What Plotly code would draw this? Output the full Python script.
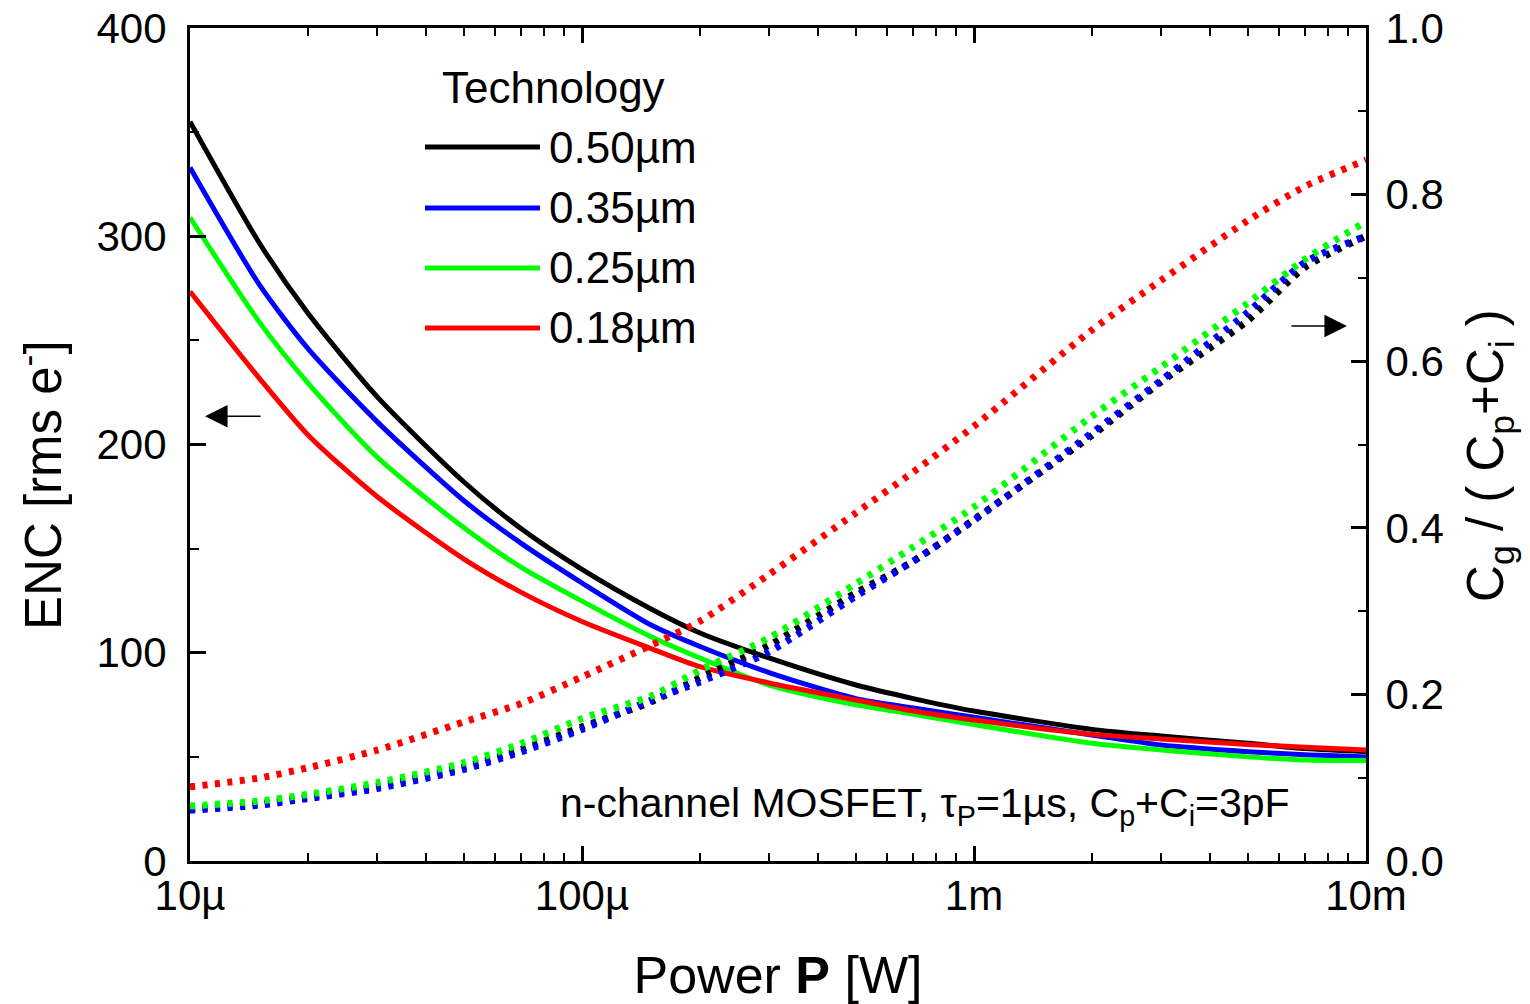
import plotly.graph_objects as go

# Power values [W]
power = [10e-6, 15e-6, 20e-6, 30e-6, 50e-6, 70e-6, 100e-6, 150e-6, 200e-6, 300e-6,
         500e-6, 700e-6, 1e-3, 2e-3, 3e-3, 5e-3, 7e-3, 10e-3]

technologies = ["0.50µm", "0.35µm", "0.25µm", "0.18µm"]
colors = ["#000000", "#0000ff", "#00ff00", "#ff0000"]

# ENC [rms e-] (left axis)
enc_050 = [355, 297, 263, 223, 182, 159.5, 140, 121, 109.5, 97.5, 84.5, 78, 72, 63.2, 60, 56.5, 54, 52.5]
enc_035 = [333, 277, 246, 211, 173, 152.5, 133.5, 113.3, 103, 90.5, 78, 73.5, 69, 60.5, 55.7, 52.5, 51, 50]
enc_025 = [309, 259, 229.5, 194, 160, 141, 124.8, 107.7, 97.5, 84.5, 75, 70.5, 65.5, 56.5, 53.3, 50, 48.5, 48.2]
enc_018 = [273.5, 232, 204.6, 175, 145, 129, 115, 102, 93.3, 85.5, 77.3, 72, 67.7, 60.8, 58.6, 56, 54.6, 53.3]

# Cg/(Cp+Ci) (right axis)
ratio_050 = [0.063, 0.069, 0.077, 0.090, 0.113, 0.134, 0.161, 0.191, 0.220, 0.259, 0.322, 0.360, 0.410, 0.511, 0.575, 0.649, 0.713, 0.750]
ratio_035 = [0.061, 0.067, 0.075, 0.087, 0.110, 0.131, 0.158, 0.193, 0.215, 0.251, 0.318, 0.360, 0.409, 0.514, 0.577, 0.659, 0.719, 0.750]
ratio_025 = [0.066, 0.072, 0.080, 0.094, 0.118, 0.141, 0.171, 0.198, 0.229, 0.268, 0.333, 0.377, 0.425, 0.534, 0.593, 0.670, 0.7225, 0.7675]
ratio_018 = [0.089, 0.0996, 0.112, 0.133, 0.167, 0.189, 0.221, 0.259, 0.288, 0.344, 0.418, 0.467, 0.522, 0.6375, 0.697, 0.769, 0.810, 0.8415]

enc_all = [enc_050, enc_035, enc_025, enc_018]
ratio_all = [ratio_050, ratio_035, ratio_025, ratio_018]

FONT = "Liberation Sans, Arial, sans-serif"

fig = go.Figure()

for name, col, r in zip(technologies, colors, ratio_all):
    fig.add_trace(go.Scatter(x=power, y=r, mode="lines", yaxis="y2", name=name,
                             line=dict(color=col, width=7, dash="5px,7.5px", shape="spline", smoothing=0.7),
                             showlegend=False))

for name, col, e in zip(technologies, colors, enc_all):
    fig.add_trace(go.Scatter(x=power, y=e, mode="lines", name=name,
                             line=dict(color=col, width=5, shape="spline", smoothing=0.7),
                             showlegend=False))

axis_common = dict(showline=True, linecolor="black", linewidth=3, ticks="inside",
                   tickcolor="black", tickwidth=3, showgrid=False, zeroline=False,
                   automargin=False, ticklabeloverflow="allow",
                   tickfont=dict(family=FONT, size=42, color="black"))

# the page body adds an 8px margin, so the figure is sized to compensate
fig.update_layout(
    width=1522, height=996,
    margin=dict(l=182, r=164, t=20, b=143),
    paper_bgcolor="white", plot_bgcolor="white",
    font=dict(family=FONT, color="black"),
    xaxis=dict(type="log", range=[-5, -2], mirror="ticks",
               tickvals=[1e-5, 1e-4, 1e-3, 1e-2], ticktext=["10µ", "100µ", "1m", "10m"],
               ticklen=15, ticklabelstandoff=-4,
               minor=dict(ticks="inside", ticklen=8, tickwidth=2, tickcolor="black", dtick="D1", showgrid=False),
               title=dict(text="Power <b>P</b> [W]", font=dict(family=FONT, size=52), standoff=39),
               **axis_common),
    yaxis=dict(range=[0, 400], dtick=100, ticklen=16,
               minor=dict(ticks="inside", ticklen=9, tickwidth=2, tickcolor="black", dtick=50, showgrid=False),
               ticklabelstandoff=12,
               **axis_common),
    yaxis2=dict(range=[0, 1], dtick=0.2, tickformat=".1f", overlaying="y", side="right",
                ticklen=15, anchor="x",
                minor=dict(ticks="inside", ticklen=8, tickwidth=2, tickcolor="black", dtick=0.1, showgrid=False),
                ticklabelstandoff=8,
                **axis_common),
)

# y-axis titles
fig.add_annotation(xref="paper", yref="paper", x=-0.1276, y=0.4514, text="ENC [rms e<sup>-</sup>]",
                   textangle=-90, showarrow=False, xanchor="center", yanchor="middle",
                   font=dict(family=FONT, size=51, color="black"))
fig.add_annotation(xref="paper", yref="paper", x=1.1054, y=0.4874,
                   text="C<sub>g</sub> / ( C<sub>p</sub>+C<sub>i</sub> )",
                   textangle=-90, showarrow=False, xanchor="center", yanchor="middle",
                   font=dict(family=FONT, size=51, color="black"))

# manual legend
legend_y = [0.857, 0.784, 0.712, 0.640]
for name, col, yy in zip(technologies, colors, legend_y):
    fig.add_shape(type="line", xref="paper", yref="paper", x0=0.1998, x1=0.2976, y0=yy, y1=yy,
                  line=dict(color=col, width=5))
    fig.add_annotation(xref="paper", yref="paper", x=0.3036, y=yy, text=name, showarrow=False,
                       xanchor="left", yanchor="middle", font=dict(family=FONT, size=44, color="black"))
fig.add_annotation(xref="paper", yref="paper", x=0.2126, y=0.928, text="Technology", showarrow=False,
                   xanchor="left", yanchor="middle", font=dict(family=FONT, size=44, color="black"))

# condition text
fig.add_annotation(xref="paper", yref="paper", x=0.625, y=0.066,
                   text="n-channel MOSFET, τ<sub>P</sub>=1µs, C<sub>p</sub>+C<sub>i</sub>=3pF",
                   showarrow=False, xanchor="center", yanchor="middle",
                   font=dict(family=FONT, size=41, color="black"))

# axis arrows
fig.add_annotation(xref="paper", yref="paper", x=0.0128, y=0.534, ax=57, ay=0, text="",
                   showarrow=True, arrowhead=2, arrowsize=3, arrowwidth=1.5, arrowcolor="black")
fig.add_annotation(xref="paper", yref="paper", x=0.9838, y=0.6423, ax=-57, ay=0, text="",
                   showarrow=True, arrowhead=2, arrowsize=3, arrowwidth=1.5, arrowcolor="black")

fig.write_html("out.html")
